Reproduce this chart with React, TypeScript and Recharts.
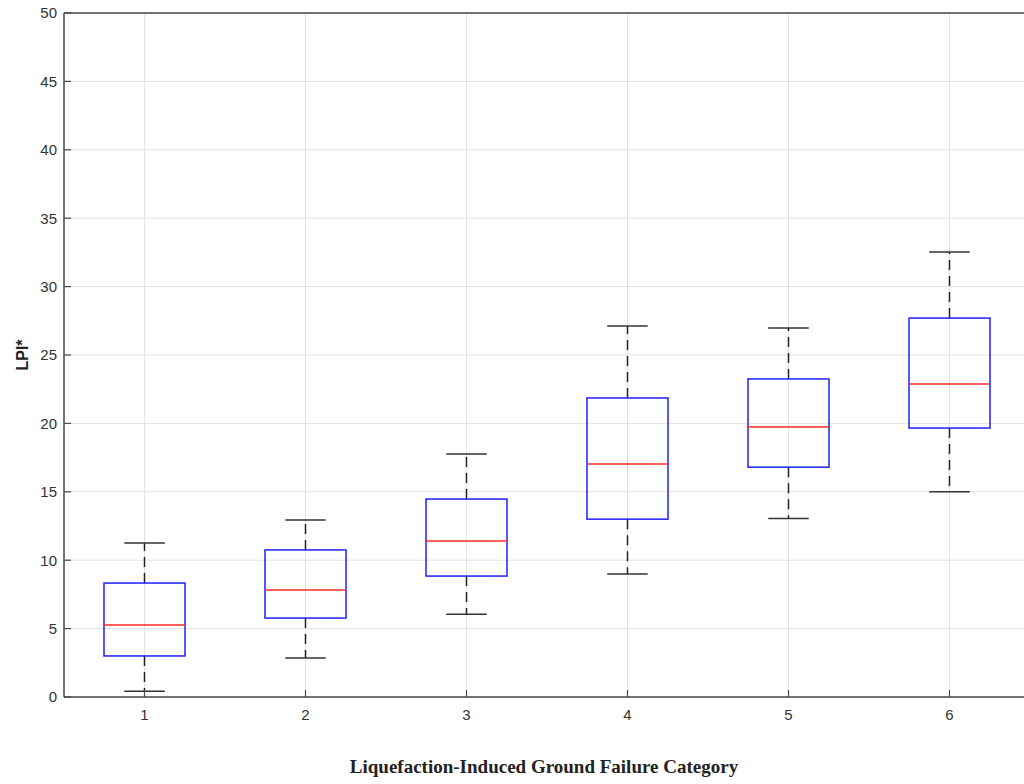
import { ComposedChart, Bar, XAxis, YAxis, CartesianGrid, ReferenceLine } from 'recharts';

const categories = ['1', '2', '3', '4', '5', '6'];
const lowerWhisker = [0.42, 2.85, 6.05, 9.0, 13.05, 15.0];
const q1 = [3.0, 5.77, 8.84, 13.0, 16.8, 19.66];
const median = [5.26, 7.82, 11.4, 17.03, 19.74, 22.88];
const q3 = [8.33, 10.75, 14.47, 21.86, 23.25, 27.7];
const upperWhisker = [11.26, 12.94, 17.76, 27.12, 26.97, 32.53];
const yTicks = [0, 5, 10, 15, 20, 25, 30, 35, 40, 45, 50];

const data = categories.map((cat, i) => ({
  cat,
  lowW: [lowerWhisker[i], q1[i]],
  box: [q1[i], q3[i]],
  med: [q1[i], median[i]],
  highW: [q3[i], upperWhisker[i]],
}));

const AXIS = '#4a4a4a';
const TICK_TEXT = '#333333';
const FONT = '"Liberation Sans", Arial, sans-serif';
const X_TICK_MARGIN = 12;
const Y_TICK_MARGIN = 7;
const TICK_LEN = 7;

function BoxShape({ x, y, width, height }: any) {
  return <rect x={x} y={y} width={width} height={height} fill="none" stroke="#1f1fff" strokeWidth={1.5} />;
}

function MedianShape({ x, y, width }: any) {
  return <line x1={x} x2={x + width} y1={y} y2={y} stroke="#ff2a2a" strokeWidth={1.5} />;
}

function LowWhisker({ x, y, width, height }: any) {
  const cx = x + width / 2;
  const bottom = y + height;
  return (
    <g>
      <line x1={cx} x2={cx} y1={y} y2={bottom} stroke="#222" strokeWidth={1.5} strokeDasharray="10 6" />
      <line x1={x + width / 4} x2={x + (3 * width) / 4} y1={bottom} y2={bottom} stroke="#333" strokeWidth={1.5} />
    </g>
  );
}

function HighWhisker({ x, y, width, height }: any) {
  const cx = x + width / 2;
  const bottom = y + height;
  return (
    <g>
      <line x1={cx} x2={cx} y1={bottom} y2={y} stroke="#222" strokeWidth={1.5} strokeDasharray="10 6" />
      <line x1={x + width / 4} x2={x + (3 * width) / 4} y1={y} y2={y} stroke="#333" strokeWidth={1.5} />
    </g>
  );
}

function BottomTick({ x, y, payload }: any) {
  const axisY = y - X_TICK_MARGIN;
  return (
    <g>
      <line x1={x} x2={x} y1={axisY} y2={axisY - TICK_LEN} stroke={AXIS} strokeWidth={1.2} />
      <text x={x} y={y} dy="0.71em" textAnchor="middle" fill={TICK_TEXT} fontSize={15} fontFamily={FONT}>
        {payload.value}
      </text>
    </g>
  );
}

function TopTick({ x, y }: any) {
  return <line x1={x} x2={x} y1={y} y2={y + TICK_LEN} stroke={AXIS} strokeWidth={1.2} />;
}

function LeftTick({ x, y, payload }: any) {
  const axisX = x + Y_TICK_MARGIN;
  return (
    <g>
      <line x1={axisX} x2={axisX + TICK_LEN} y1={y} y2={y} stroke={AXIS} strokeWidth={1.2} />
      <text x={x} y={y} dy="0.355em" textAnchor="end" fill={TICK_TEXT} fontSize={15} fontFamily={FONT}>
        {payload.value}
      </text>
    </g>
  );
}

function XLabel({ viewBox }: any) {
  const { x, width } = viewBox;
  return (
    <text
      x={x + width / 2 - 3}
      y={773}
      textAnchor="middle"
      fill="#222"
      fontSize={19}
      fontWeight="bold"
      fontFamily='"Liberation Serif", "Times New Roman", serif'
    >
      Liquefaction-Induced Ground Failure Category
    </text>
  );
}

function YLabel({ viewBox }: any) {
  const { y, height } = viewBox;
  const cy = y + height / 2;
  return (
    <text
      x={22}
      y={cy}
      transform={`rotate(-90, 22, ${cy})`}
      textAnchor="middle"
      dominantBaseline="central"
      fill="#222"
      fontSize={16}
      fontWeight="bold"
      fontFamily={FONT}
    >
      LPI*
    </text>
  );
}

export default function App() {
  return (
    <div style={{ position: 'absolute', left: 0, top: 0, width: 1024, height: 784, overflow: 'hidden', background: '#fff' }}>
      <ComposedChart width={1040} height={784} data={data} margin={{ top: 13, right: 10, bottom: 0, left: 0 }}>
        <CartesianGrid stroke="#e2e2e2" strokeWidth={1} />
        <XAxis
          dataKey="cat"
          height={87}
          axisLine={{ stroke: AXIS, strokeWidth: 1.5 }}
          tickLine={false}
          tickSize={0}
          tickMargin={X_TICK_MARGIN}
          tick={<BottomTick />}
          label={<XLabel />}
        />
        <XAxis xAxisId="top" dataKey="cat" orientation="top" height={0} axisLine={false} tickLine={false} tickSize={0} tickMargin={0} tick={<TopTick />} />
        <XAxis xAxisId="lw" dataKey="cat" hide />
        <XAxis xAxisId="hw" dataKey="cat" hide />
        <XAxis xAxisId="md" dataKey="cat" hide />
        <YAxis
          type="number"
          domain={[0, 50]}
          ticks={yTicks}
          width={64}
          axisLine={{ stroke: AXIS, strokeWidth: 1.5 }}
          tickLine={false}
          tickSize={0}
          tickMargin={Y_TICK_MARGIN}
          tick={<LeftTick />}
          label={<YLabel />}
        />
        <ReferenceLine y={50} stroke={AXIS} strokeWidth={1.5} />
        <Bar xAxisId="lw" dataKey="lowW" barSize={81} shape={<LowWhisker />} isAnimationActive={false} />
        <Bar xAxisId="hw" dataKey="highW" barSize={81} shape={<HighWhisker />} isAnimationActive={false} />
        <Bar dataKey="box" barSize={81} shape={<BoxShape />} isAnimationActive={false} />
        <Bar xAxisId="md" dataKey="med" barSize={81} shape={<MedianShape />} isAnimationActive={false} />
      </ComposedChart>
    </div>
  );
}
